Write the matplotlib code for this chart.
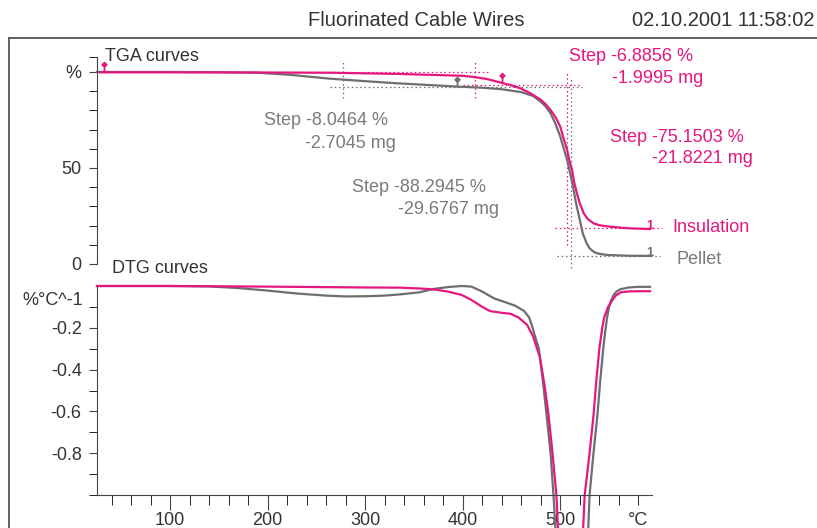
import numpy as np
import matplotlib
matplotlib.use("Agg")
import matplotlib.pyplot as plt
from matplotlib.path import Path
from matplotlib.lines import Line2D

plt.rcParams['font.family'] = ['Liberation Sans', 'DejaVu Sans']
plt.rcParams['axes.unicode_minus'] = False

PINK = '#e5177f'
GRAY = '#6e6e6e'
GRAY_TXT = '#7a7a7a'
INK = '#333333'

# TGA curves (mass %)
tga_pellet_t = [25, 100, 150, 190, 223, 264, 300, 333, 365, 394, 420, 440, 460, 472, 480,
                485, 490, 495, 500, 503, 507, 510, 513, 516, 520, 523, 527, 530, 533, 536,
                540, 548, 570, 592]
tga_pellet = [100, 100, 99.9, 99.6, 98.5, 96.5, 95.2, 94.1, 93.2, 92.4, 91.8, 91.0, 89.5, 87.5, 84.5,
              82.0, 78.5, 73.0, 66.3, 61.0, 54.2, 47.5, 40.3, 32.0, 22.9, 16.0, 10.8, 8.2, 6.8, 5.9,
              5.3, 4.7, 4.3, 4.2]
tga_insul_t = [28, 100, 200, 264, 333, 400, 411, 425, 435, 450, 460, 469, 480, 485, 490, 495,
               500, 503, 507, 509, 512, 514, 517, 520, 524, 528, 534, 540, 551, 570, 592]
tga_insul = [99.8, 99.8, 99.7, 99.6, 99.0, 98.0, 97.4, 96.3, 95.0, 93.0, 91.3, 89.0, 85.5, 83.2,
             80.2, 76.5, 71.5, 66.0, 59.4, 54.5, 49.0, 43.0, 36.8, 31.5, 26.4, 23.5, 21.2, 20.2,
             19.4, 18.6, 18.2]

# DTG curves (%/°C)
dtg_pellet_t = [25, 100, 140, 170, 200, 230, 260, 280, 300, 320, 336, 356, 370, 385, 399, 409,
                420, 432, 442, 454, 463, 468, 471, 474, 478, 482, 486, 490, 493, 498, 505,
                515, 524, 530, 534, 538, 541, 544, 546, 548, 550, 552, 555, 558, 562, 570, 580, 592]
dtg_pellet = [0.0, 0.0, -0.002, -0.01, -0.022, -0.036, -0.046, -0.05, -0.049, -0.046, -0.04, -0.03,
              -0.014, -0.005, 0.0, -0.003, -0.027, -0.059, -0.075, -0.095, -0.12, -0.15, -0.19,
              -0.24, -0.30, -0.45, -0.62, -0.80, -1.0, -1.4, -1.9, -2.1, -1.7, -1.0, -0.80, -0.62,
              -0.45, -0.30, -0.22, -0.15, -0.10, -0.07, -0.04, -0.025, -0.015, -0.007, -0.004, -0.004]
dtg_insul_t = [25, 100, 200, 300, 336, 356, 370, 385, 399, 409, 420, 428, 438, 449, 457, 466,
               472, 479, 484, 488, 492, 496, 501, 510, 518, 525, 530, 534, 537, 540, 543, 545,
               549, 553, 557, 562, 570, 580, 592]
dtg_insul = [0.0, 0.0, -0.003, -0.007, -0.008, -0.012, -0.016, -0.027, -0.043, -0.067, -0.10,
             -0.12, -0.127, -0.133, -0.15, -0.186, -0.24, -0.34, -0.48, -0.62, -0.80, -1.0, -1.5,
             -2.0, -1.7, -1.0, -0.80, -0.62, -0.45, -0.30, -0.20, -0.15, -0.10, -0.07, -0.045,
             -0.03, -0.026, -0.025, -0.025]

# step evaluation markers (temperature, mass %)
pellet_pins = [(394, 92.4)]
insul_pins = [(32, 99.8), (440, 94.5)]

# dotted construction lines: (value, start, end)
pellet_hlines = [(92.2, 264, 522), (4.2, 497, 602)]
pellet_vlines = [(277, 86.5, 106), (511, -2.1, 97.4)]
insul_hlines = [(99.8, 154, 426), (93.2, 400, 520), (18.75, 495, 604)]
insul_vlines = [(413, 86.5, 106), (507, 9.9, 99.5)]

pellet_steps = ["Step -8.0464 %", "-2.7045 mg", "Step -88.2945 %", "-29.6767 mg"]
insul_steps = ["Step -6.8856 %", "-1.9995 mg", "Step -75.1503 %", "-21.8221 mg"]

fig = plt.figure(figsize=(8.17, 5.28), dpi=100)
W, H = 817, 528

# outer frame
fig.add_artist(Line2D([9 / W, 1], [1 - 38 / H, 1 - 38 / H], color='#555555', lw=1.3))
fig.add_artist(Line2D([9 / W, 9 / W], [0, 1 - 38 / H], color='#555555', lw=1.3))
fig.text(416 / W, 1 - 20 / H, 'Fluorinated Cable Wires', ha='center', va='center',
         fontsize=14.5, color=INK)
fig.text(815 / W, 1 - 20 / H, '02.10.2001 11:58:02', ha='right', va='center',
         fontsize=14.5, color=INK)

x0, x1 = 97 / W, 652 / W
ax1 = fig.add_axes([x0, 264 / H, x1 - x0, 207.4 / H])
ax2 = fig.add_axes([x0, 33 / H, x1 - x0, 209 / H])
for ax in (ax1, ax2):
    ax.set_xlim(25, 594)
    ax.patch.set_alpha(0)
    for s in ('top', 'right'):
        ax.spines[s].set_visible(False)
    ax.spines['left'].set_color('#444444')
    ax.spines['bottom'].set_color('#444444')
    ax.tick_params(colors='#444444', labelcolor=INK, labelsize=13)

# TGA
ax1.set_ylim(0, 108)
ax1.spines['bottom'].set_visible(False)
ax1.set_xticks([])
ax1.set_yticks([0, 50, 100])
ax1.set_yticklabels(['0', '50', '%'])
ax1.set_yticks([10, 20, 30, 40, 60, 70, 80, 90, 108], minor=True)
ax1.tick_params(axis='y', which='both', length=6, pad=5)

dot = (0, (1.2, 2.2))
for v, a, b in pellet_hlines:
    ax1.plot([a, b], [v, v], color=GRAY, lw=0.9, ls=dot, clip_on=False)
for t, a, b in pellet_vlines:
    ax1.plot([t, t], [a, b], color=GRAY, lw=0.9, ls=dot, clip_on=False)
for v, a, b in insul_hlines:
    ax1.plot([a, b], [v, v], color=PINK, lw=0.9, ls=dot, clip_on=False)
for t, a, b in insul_vlines:
    ax1.plot([t, t], [a, b], color=PINK, lw=0.9, ls=dot, clip_on=False)

ax1.plot(tga_pellet_t, tga_pellet, color=GRAY, lw=1.6, clip_on=False)
ax1.plot(tga_insul_t, tga_insul, color=PINK, lw=1.6, clip_on=False)

pin = Path([(0, 0), (0, 1.0), (0, 1.0), (-0.4, 1.35), (0, 1.7), (0.4, 1.35), (0, 1.0)],
           [Path.MOVETO, Path.LINETO, Path.MOVETO, Path.LINETO, Path.LINETO, Path.LINETO,
            Path.CLOSEPOLY])
for t, v in pellet_pins:
    ax1.plot(t, v, marker=pin, ms=14, color=GRAY, mew=1.3, clip_on=False)
for t, v in insul_pins:
    ax1.plot(t, v, marker=pin, ms=14, color=PINK, mew=1.3, clip_on=False)

ax1.text(tga_pellet_t[-1], tga_pellet[-1], '1', color=GRAY, fontsize=9, ha='center',
         va='baseline', fontweight='bold')
ax1.text(tga_insul_t[-1], tga_insul[-1], '1', color=PINK, fontsize=9, ha='center',
         va='baseline', fontweight='bold')

ax1.text(33, 107.8, 'TGA curves', fontsize=13, color=INK, va='center')
ax1.text(196, 74.5, pellet_steps[0], fontsize=13, color=GRAY_TXT, va='center')
ax1.text(238, 63, pellet_steps[1], fontsize=13, color=GRAY_TXT, va='center')
ax1.text(286.5, 40, pellet_steps[2], fontsize=13, color=GRAY_TXT, va='center')
ax1.text(334, 28.6, pellet_steps[3], fontsize=13, color=GRAY_TXT, va='center')
ax1.text(509, 107.8, insul_steps[0], fontsize=13, color=PINK, va='center')
ax1.text(553, 96.4, insul_steps[1], fontsize=13, color=PINK, va='center')
ax1.text(551, 66, insul_steps[2], fontsize=13, color=PINK, va='center')
ax1.text(594, 54.7, insul_steps[3], fontsize=13, color=PINK, va='center')
ax1.text(615, 18.75, 'Insulation', fontsize=13, color=PINK, va='center')
ax1.text(619, 2.6, 'Pellet', fontsize=13, color=GRAY_TXT, va='center')

# DTG
ax2.set_ylim(-1.0, 0)
ax2.set_yticks([-0.2, -0.4, -0.6, -0.8])
ax2.set_yticklabels(['-0.2', '-0.4', '-0.6', '-0.8'])
ax2.set_yticks([-0.1, -0.3, -0.5, -0.7, -0.9, -1.0], minor=True)
ax2.tick_params(axis='y', which='both', length=6, pad=5)
ax2.set_xticks([100, 200, 300, 400, 500])
ax2.set_xticks([t for t in range(40, 600, 20) if t % 100], minor=True)
ax2.tick_params(axis='x', which='major', length=11, pad=1)
ax2.tick_params(axis='x', which='minor', length=7)

ax2.plot(dtg_pellet_t, dtg_pellet, color=GRAY, lw=1.6, clip_on=False)
ax2.plot(dtg_insul_t, dtg_insul, color=PINK, lw=1.6, clip_on=False)

ax2.text(-0.025, -0.067, '%°C^-1', transform=ax2.get_yaxis_transform(), fontsize=13,
         color=INK, ha='right', va='center')
ax2.text(580, -0.12, '°C', transform=ax2.get_xaxis_transform(), fontsize=13,
         color=INK, ha='center', va='center')
ax2.text(40, 0.086, 'DTG curves', fontsize=13, color=INK, va='center')

fig.savefig('out.png', dpi=100)
